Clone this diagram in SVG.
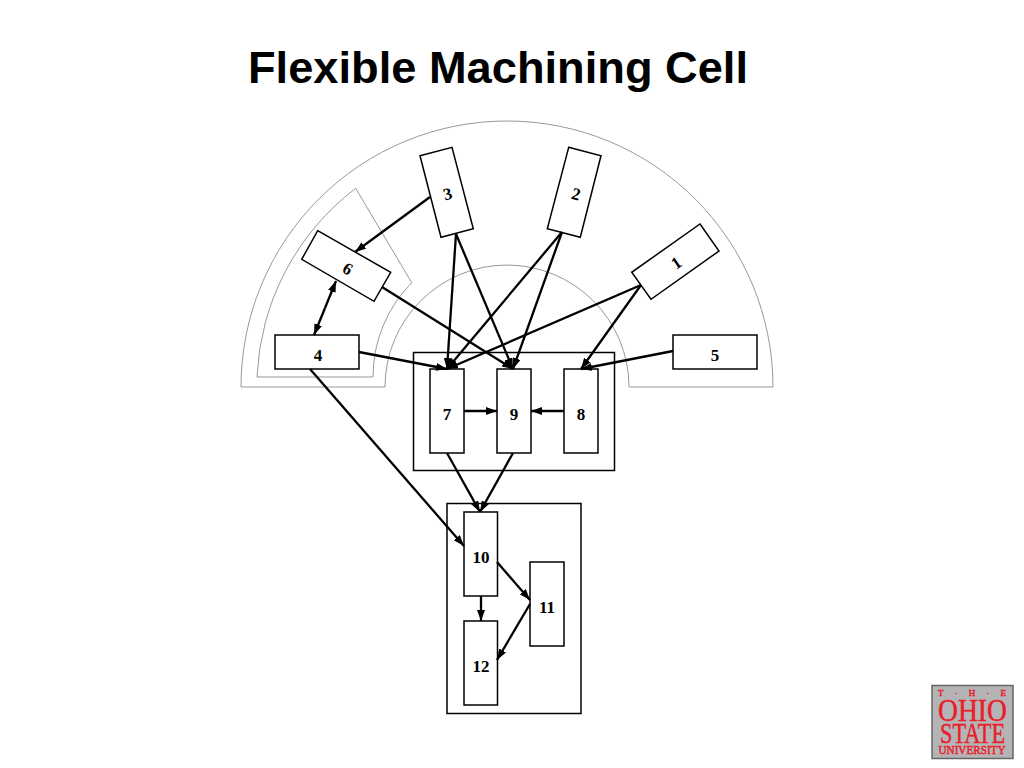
<svg xmlns="http://www.w3.org/2000/svg" width="1024" height="768" viewBox="0 0 1024 768">
<style>
.zone{fill:none;stroke:#999;stroke-width:1}
.box{fill:#fff;stroke:#000;stroke-width:1.500}
.frame{fill:none;stroke:#000;stroke-width:1.500}
.lbl{font-family:"Liberation Serif",serif;font-weight:bold;font-size:17px;text-anchor:middle;fill:#000}
.conn line{stroke:#000;stroke-width:2.300;marker-end:url(#ah)}
.logo{font-family:"Liberation Serif",serif;fill:#e8202a;text-anchor:middle;stroke:#e8202a;stroke-width:.5}
</style>
<defs>
<marker id="ah" markerUnits="userSpaceOnUse" markerWidth="12" markerHeight="10" refX="11" refY="4" orient="auto"><path d="M0 0L11 4L0 8Z" fill="#000"/></marker>
</defs>
<rect width="1024" height="768" fill="#fff"/>
<text x="498" y="83" font-family="Liberation Sans,sans-serif" font-weight="bold" font-size="44" text-anchor="middle" textLength="500" lengthAdjust="spacingAndGlyphs">Flexible Machining Cell</text>
<g id="zones">
<path class="zone" d="M241 387A266 266 0 0 1 773 387H629A122 122 0 0 0 385 387Z"/>
<path class="zone" d="M257 377H373A134 134 0 0 1 411.700 282.700L355.700 188.300A250 250 0 0 0 257 377Z"/>
</g>
<rect id="cell-a" class="frame" x="413.500" y="352.500" width="201" height="118"/>
<rect id="cell-b" class="frame" x="447" y="503.500" width="134" height="210"/>
<g id="n3"><path class="box" d="M420 155.700L452 147.300L473.300 228.700L441 237.300Z"/><text class="lbl" transform="translate(449 199.500) rotate(-15)">3</text></g>
<g id="n2"><path class="box" d="M568.700 147.300L601 155.700L580.300 237.300L547.300 228.700Z"/><text class="lbl" transform="translate(574.500 199.500) rotate(15)">2</text></g>
<g id="n1"><path class="box" d="M700 224L719 251L651 299.300L631.700 272.300Z"/><text class="lbl" transform="translate(679.500 267.500) rotate(-35)">1</text></g>
<g id="n6"><path class="box" d="M317.700 230.700L390.700 272.300L374 301.300L301.700 259.300Z"/><text class="lbl" transform="translate(345 273.500) rotate(30)">6</text></g>
<g id="n4"><rect class="box" x="275" y="335" width="84" height="34"/><text class="lbl" x="318" y="361">4</text></g>
<g id="n5"><rect class="box" x="673" y="335" width="84" height="34"/><text class="lbl" x="715" y="361">5</text></g>
<g id="n7"><rect class="box" x="430" y="369" width="34" height="84"/><text class="lbl" x="447" y="420">7</text></g>
<g id="n9"><rect class="box" x="497" y="369" width="34" height="84"/><text class="lbl" x="514" y="420">9</text></g>
<g id="n8"><rect class="box" x="564" y="369" width="34" height="84"/><text class="lbl" x="581" y="420">8</text></g>
<g id="n10"><rect class="box" x="464" y="512" width="33.500" height="84"/><text class="lbl" x="481" y="563">10</text></g>
<g id="n11"><rect class="box" x="530" y="562" width="34" height="84"/><text class="lbl" x="547" y="613">11</text></g>
<g id="n12"><rect class="box" x="464" y="621" width="33.500" height="84"/><text class="lbl" x="481" y="672">12</text></g>
<g id="connectors" class="conn">
<line x1="430" y1="197" x2="355" y2="252"/>
<line x1="325" y1="308" x2="336" y2="281"/>
<line x1="325" y1="308" x2="314" y2="335"/>
<line x1="456" y1="234" x2="447" y2="369"/>
<line x1="456" y1="234" x2="513" y2="369"/>
<line x1="562" y1="232" x2="447" y2="369"/>
<line x1="562" y1="232" x2="513" y2="369"/>
<line x1="641" y1="285" x2="447" y2="369"/>
<line x1="641" y1="285" x2="581" y2="369"/>
<line x1="673" y1="351" x2="581" y2="369"/>
<line x1="359" y1="352" x2="447" y2="369"/>
<line x1="382" y1="287" x2="513" y2="369"/>
<line x1="464" y1="411" x2="497" y2="411"/>
<line x1="564" y1="411" x2="531" y2="411"/>
<line x1="447" y1="453" x2="480" y2="512"/>
<line x1="513" y1="453" x2="480" y2="512"/>
<line x1="310" y1="369" x2="464" y2="546"/>
<line x1="497" y1="562" x2="530" y2="600"/>
<line x1="530" y1="604" x2="497" y2="660"/>
<line x1="481" y1="596" x2="481" y2="621"/>
</g>
<g id="logo">
<rect x="932" y="685.500" width="81" height="73" fill="#b4b4b6" stroke="#666" stroke-width="1.500"/>
<text class="logo" x="972" y="696" font-size="9" textLength="68">T · H · E</text>
<text class="logo" x="972.500" y="721" font-size="31" textLength="69" lengthAdjust="spacingAndGlyphs">OHIO</text>
<text class="logo" x="972.500" y="743" font-size="30" textLength="65" lengthAdjust="spacingAndGlyphs">STATE</text>
<text class="logo" x="972" y="754" font-size="13" textLength="67" lengthAdjust="spacingAndGlyphs">UNIVERSITY</text>
</g>
</svg>
